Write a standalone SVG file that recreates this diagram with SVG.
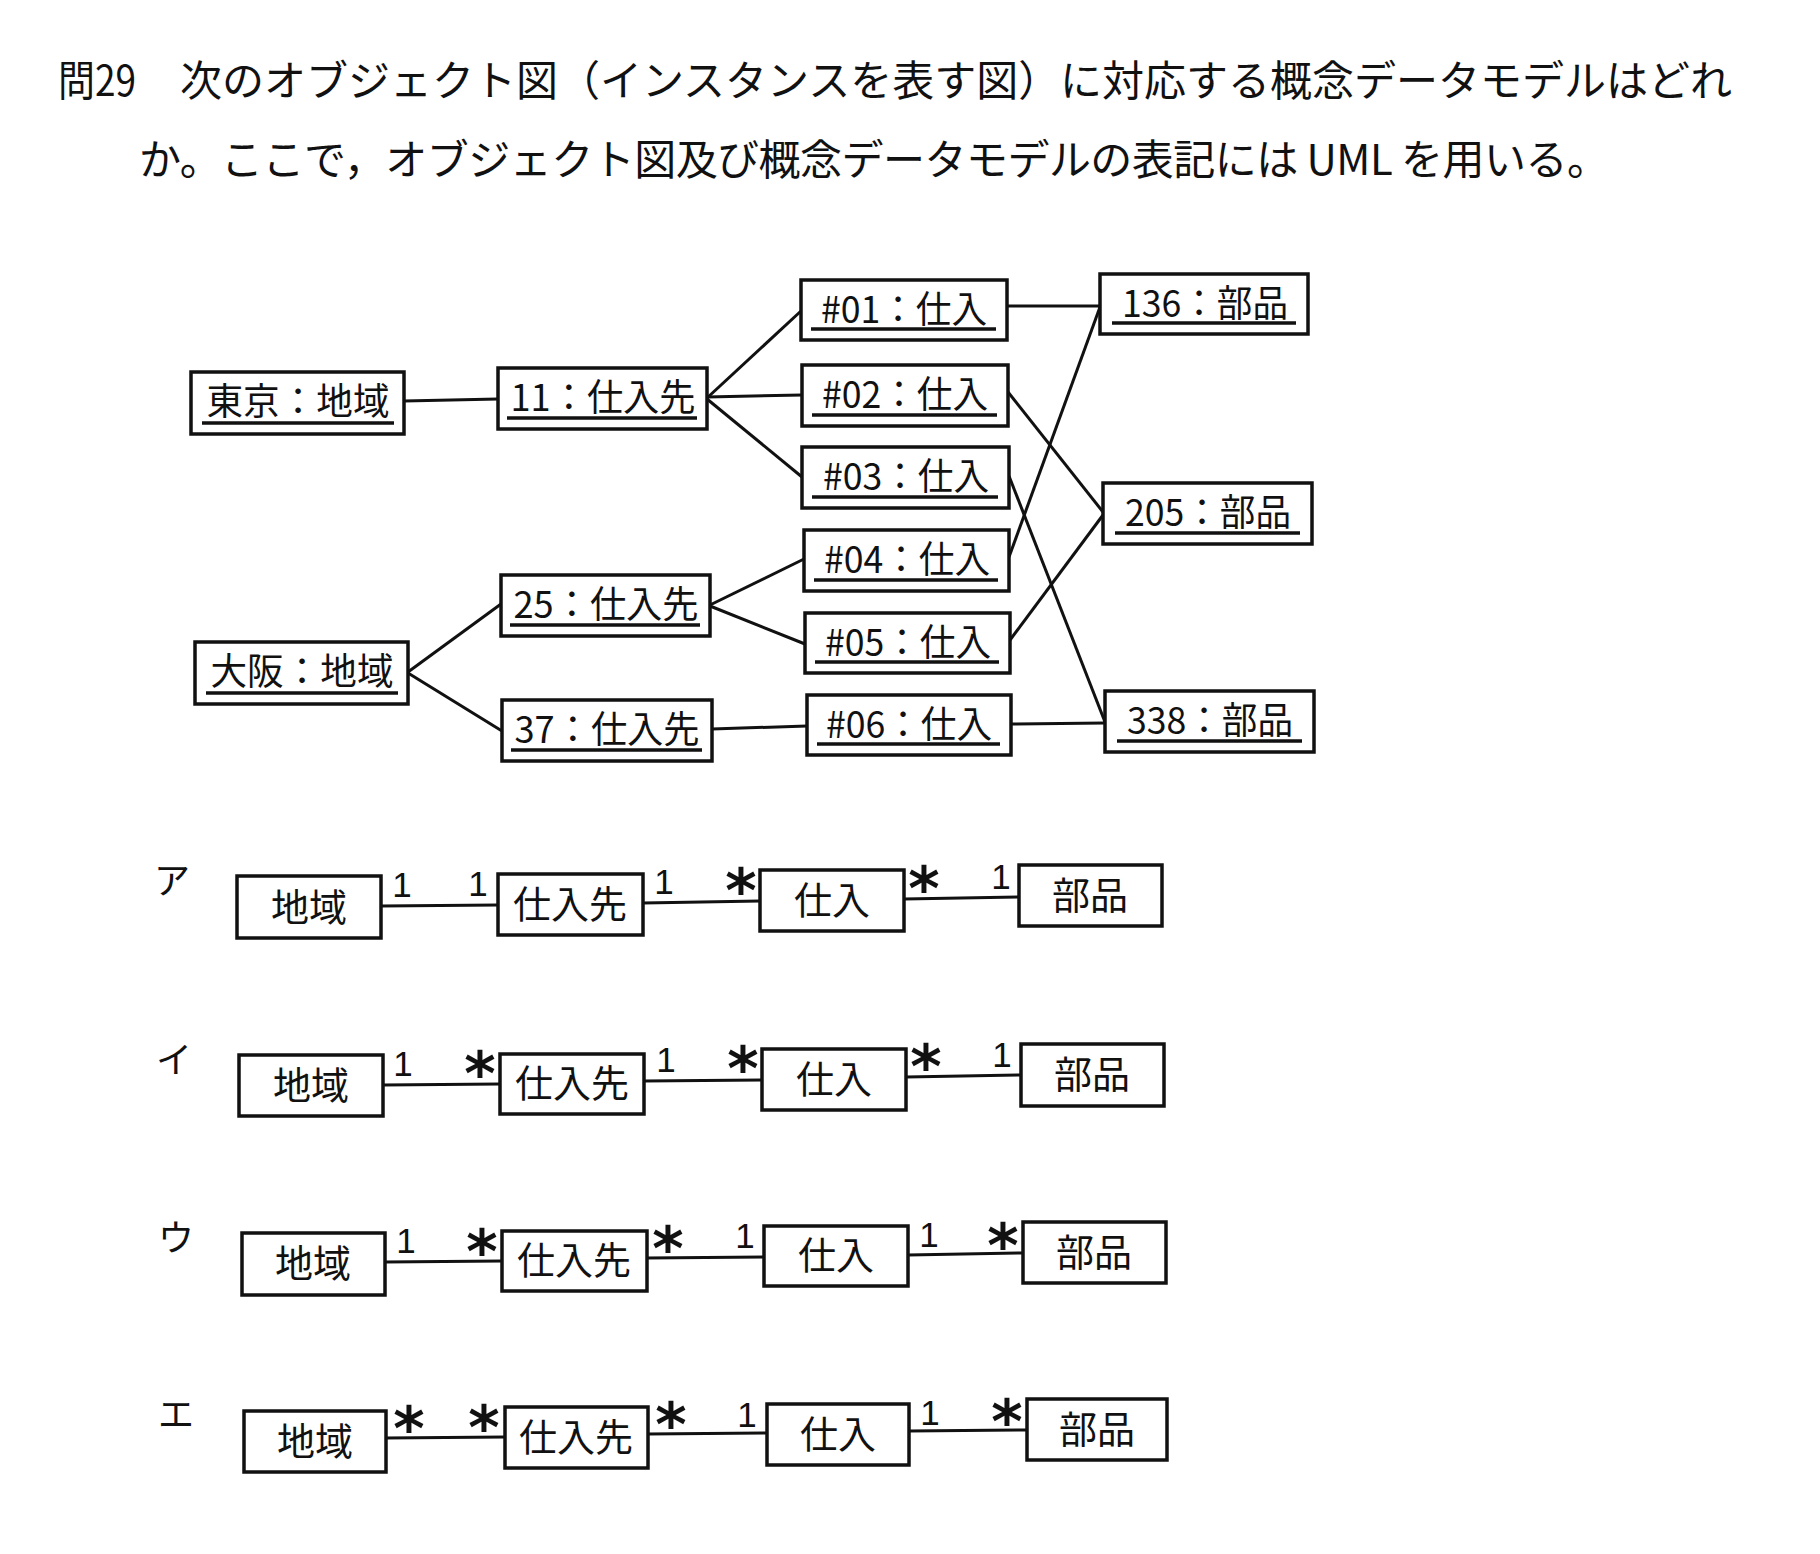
<svg xmlns="http://www.w3.org/2000/svg" width="1820" height="1554" viewBox="0 0 1820 1554">
<style>
text{font-family:"Noto Sans CJK JP","Noto Sans",sans-serif;fill:#111}
.q{font-size:42px}
.obj rect,.cls rect{fill:#fff;stroke:#111;stroke-width:3.5}
.obj text{font-size:37px;text-anchor:middle}
.obj line{stroke:#111;stroke-width:3.5}
.cls text{font-size:38px;text-anchor:middle}
.conn line{stroke:#111;stroke-width:3}
.one{font-family:"Liberation Sans",Arial,sans-serif;font-size:35px;text-anchor:middle}
.star{font-family:"DejaVu Sans",sans-serif;font-size:60px;font-weight:bold;text-anchor:middle}
.opt{font-size:36px}
</style>
<rect width="1820" height="1554" fill="#fff"/>
<g id="question">
<text class="q" x="58" y="96" textLength="78" lengthAdjust="spacingAndGlyphs">問29</text>
<text class="q" x="180" y="96" textLength="1552" lengthAdjust="spacing">次のオブジェクト図（インスタンスを表す図）に対応する概念データモデルはどれ</text>
<text class="q" x="139" y="175" textLength="1470" lengthAdjust="spacing">か。ここで，オブジェクト図及び概念データモデルの表記には UML を用いる。</text>
</g>

<g id="object-connectors" class="conn">
<line x1="404" y1="401" x2="498" y2="399"/>
<line x1="707" y1="398" x2="801" y2="311"/>
<line x1="707" y1="397" x2="802" y2="395"/>
<line x1="707" y1="399" x2="802" y2="477"/>
<line x1="408" y1="672" x2="501" y2="604"/>
<line x1="408" y1="673" x2="502" y2="731"/>
<line x1="710" y1="605" x2="804" y2="559"/>
<line x1="710" y1="606" x2="805" y2="644"/>
<line x1="712" y1="729" x2="807" y2="726"/>
<line x1="1007" y1="306" x2="1100" y2="306"/>
<line x1="1008" y1="392" x2="1103" y2="512"/>
<line x1="1009" y1="476" x2="1105" y2="722"/>
<line x1="1009" y1="557" x2="1100" y2="307"/>
<line x1="1010" y1="640" x2="1103" y2="515"/>
<line x1="1011" y1="724" x2="1105" y2="723"/>
</g>

<g id="obj-tokyo" class="obj"><rect x="191" y="372" width="213" height="62"/><text x="298" y="415" textLength="183" lengthAdjust="spacingAndGlyphs">東京：地域</text><line x1="202" y1="423" x2="394" y2="423"/></g>
<g id="obj-osaka" class="obj"><rect x="195" y="642" width="213" height="62"/><text x="302" y="685" textLength="183" lengthAdjust="spacingAndGlyphs">大阪：地域</text><line x1="206" y1="693" x2="398" y2="693"/></g>
<g id="obj-s11" class="obj"><rect x="498" y="368" width="209" height="61"/><text x="603" y="411" textLength="185" lengthAdjust="spacingAndGlyphs">11：仕入先</text><line x1="507" y1="418" x2="697" y2="418"/></g>
<g id="obj-s25" class="obj"><rect x="501" y="575" width="209" height="61"/><text x="606" y="618" textLength="185" lengthAdjust="spacingAndGlyphs">25：仕入先</text><line x1="510" y1="625" x2="700" y2="625"/></g>
<g id="obj-s37" class="obj"><rect x="502" y="700" width="210" height="61"/><text x="607" y="743" textLength="185" lengthAdjust="spacingAndGlyphs">37：仕入先</text><line x1="511" y1="750" x2="702" y2="750"/></g>
<g id="obj-p01" class="obj"><rect x="801" y="280" width="206" height="60"/><text x="904" y="323" textLength="166" lengthAdjust="spacingAndGlyphs">#01：仕入</text><line x1="811" y1="329" x2="996" y2="329"/></g>
<g id="obj-p02" class="obj"><rect x="802" y="365" width="206" height="61"/><text x="905" y="408" textLength="166" lengthAdjust="spacingAndGlyphs">#02：仕入</text><line x1="812" y1="415" x2="997" y2="415"/></g>
<g id="obj-p03" class="obj"><rect x="802" y="447" width="207" height="61"/><text x="906" y="490" textLength="166" lengthAdjust="spacingAndGlyphs">#03：仕入</text><line x1="812" y1="497" x2="998" y2="497"/></g>
<g id="obj-p04" class="obj"><rect x="804" y="530" width="205" height="61"/><text x="907" y="573" textLength="166" lengthAdjust="spacingAndGlyphs">#04：仕入</text><line x1="814" y1="580" x2="998" y2="580"/></g>
<g id="obj-p05" class="obj"><rect x="805" y="613" width="205" height="60"/><text x="908" y="656" textLength="166" lengthAdjust="spacingAndGlyphs">#05：仕入</text><line x1="815" y1="662" x2="999" y2="662"/></g>
<g id="obj-p06" class="obj"><rect x="807" y="695" width="204" height="60"/><text x="909" y="738" textLength="166" lengthAdjust="spacingAndGlyphs">#06：仕入</text><line x1="817" y1="744" x2="1000" y2="744"/></g>
<g id="obj-b136" class="obj"><rect x="1100" y="274" width="208" height="60"/><text x="1205" y="317" textLength="166" lengthAdjust="spacingAndGlyphs">136：部品</text><line x1="1112" y1="323" x2="1296" y2="323"/></g>
<g id="obj-b205" class="obj"><rect x="1103" y="483" width="209" height="61"/><text x="1208" y="526" textLength="166" lengthAdjust="spacingAndGlyphs">205：部品</text><line x1="1115" y1="533" x2="1300" y2="533"/></g>
<g id="obj-b338" class="obj"><rect x="1105" y="691" width="209" height="61"/><text x="1210" y="734" textLength="166" lengthAdjust="spacingAndGlyphs">338：部品</text><line x1="1117" y1="741" x2="1302" y2="741"/></g>

<g id="option-labels">
<text class="opt" x="154" y="894">ア</text>
<text class="opt" x="156" y="1073">イ</text>
<text class="opt" x="158" y="1251">ウ</text>
<text class="opt" x="158" y="1428">エ</text>
</g>

<g id="class-connectors" class="conn">
<line x1="381" y1="906" x2="498" y2="905"/>
<line x1="643" y1="903" x2="760" y2="901"/>
<line x1="904" y1="899" x2="1019" y2="897"/>
<line x1="383" y1="1085" x2="500" y2="1084"/>
<line x1="644" y1="1081" x2="762" y2="1080"/>
<line x1="906" y1="1077" x2="1021" y2="1075"/>
<line x1="385" y1="1262" x2="502" y2="1261"/>
<line x1="647" y1="1258" x2="764" y2="1257"/>
<line x1="908" y1="1255" x2="1023" y2="1253"/>
<line x1="386" y1="1438" x2="505" y2="1437"/>
<line x1="648" y1="1434" x2="767" y2="1433"/>
<line x1="909" y1="1431" x2="1027" y2="1430"/>
</g>

<g id="option-a">
<g id="a-region" class="cls"><rect x="237" y="876" width="144" height="62"/><text x="309" y="921">地域</text></g>
<g id="a-supplier" class="cls"><rect x="498" y="874" width="145" height="61"/><text x="570" y="918">仕入先</text></g>
<g id="a-purchase" class="cls"><rect x="760" y="870" width="144" height="61"/><text x="832" y="914">仕入</text></g>
<g id="a-part" class="cls"><rect x="1019" y="865" width="143" height="61"/><text x="1090" y="909">部品</text></g>
<text class="one" x="402" y="897">1</text>
<text class="one" x="478" y="896">1</text>
<text class="one" x="664" y="894">1</text>
<text class="star" x="741" y="912">*</text>
<text class="star" x="924" y="910">*</text>
<text class="one" x="1001" y="889">1</text>
</g>

<g id="option-i">
<g id="i-region" class="cls"><rect x="239" y="1055" width="144" height="61"/><text x="311" y="1099">地域</text></g>
<g id="i-supplier" class="cls"><rect x="500" y="1054" width="144" height="60"/><text x="572" y="1097">仕入先</text></g>
<g id="i-purchase" class="cls"><rect x="762" y="1049" width="144" height="61"/><text x="834" y="1093">仕入</text></g>
<g id="i-part" class="cls"><rect x="1021" y="1044" width="143" height="62"/><text x="1092" y="1088">部品</text></g>
<text class="one" x="403" y="1076">1</text>
<text class="star" x="480" y="1095">*</text>
<text class="one" x="666" y="1072">1</text>
<text class="star" x="743" y="1090">*</text>
<text class="star" x="926" y="1088">*</text>
<text class="one" x="1002" y="1067">1</text>
</g>

<g id="option-u">
<g id="u-region" class="cls"><rect x="242" y="1233" width="143" height="62"/><text x="313" y="1277">地域</text></g>
<g id="u-supplier" class="cls"><rect x="502" y="1231" width="145" height="60"/><text x="574" y="1274">仕入先</text></g>
<g id="u-purchase" class="cls"><rect x="764" y="1226" width="144" height="60"/><text x="836" y="1269">仕入</text></g>
<g id="u-part" class="cls"><rect x="1023" y="1222" width="143" height="61"/><text x="1094" y="1266">部品</text></g>
<text class="one" x="406" y="1253">1</text>
<text class="star" x="482" y="1273">*</text>
<text class="star" x="668" y="1270">*</text>
<text class="one" x="745" y="1248">1</text>
<text class="one" x="929" y="1247">1</text>
<text class="star" x="1003" y="1267">*</text>
</g>

<g id="option-e">
<g id="e-region" class="cls"><rect x="244" y="1411" width="142" height="61"/><text x="315" y="1455">地域</text></g>
<g id="e-supplier" class="cls"><rect x="505" y="1407" width="143" height="61"/><text x="576" y="1451">仕入先</text></g>
<g id="e-purchase" class="cls"><rect x="767" y="1404" width="142" height="61"/><text x="838" y="1448">仕入</text></g>
<g id="e-part" class="cls"><rect x="1027" y="1399" width="140" height="61"/><text x="1097" y="1443">部品</text></g>
<text class="star" x="409" y="1450">*</text>
<text class="star" x="484" y="1449">*</text>
<text class="star" x="671" y="1446">*</text>
<text class="one" x="747" y="1427">1</text>
<text class="one" x="930" y="1425">1</text>
<text class="star" x="1007" y="1443">*</text>
</g>
</svg>
